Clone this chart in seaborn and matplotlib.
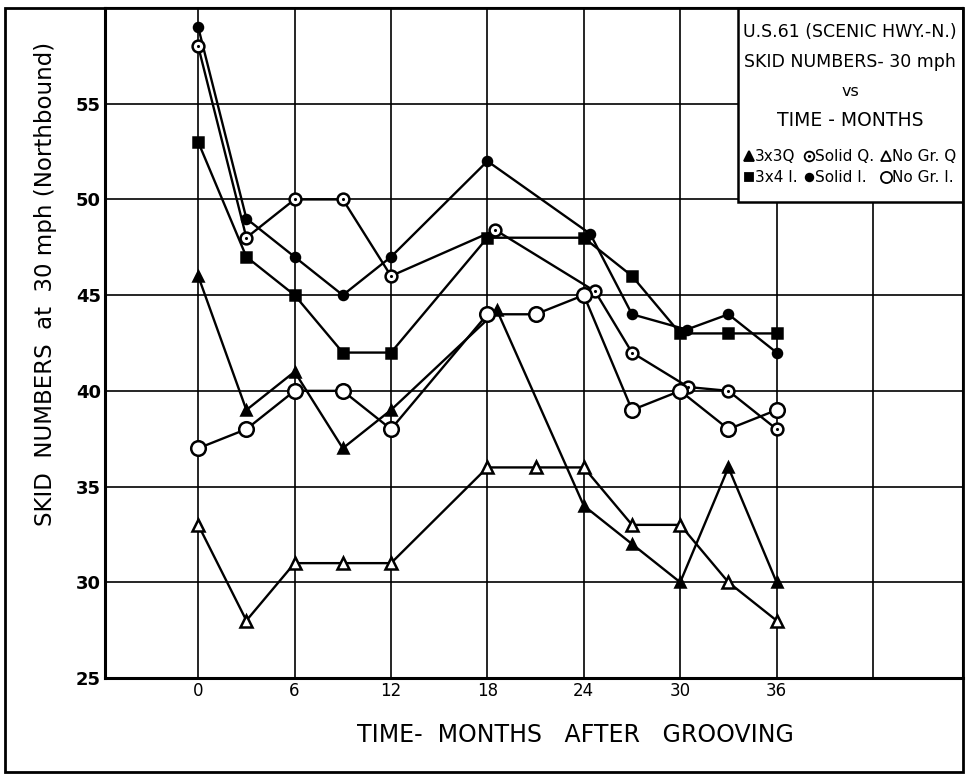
import numpy as np
import pandas as pd
import matplotlib
matplotlib.use("Agg")
import matplotlib.pyplot as plt
import seaborn as sns
from matplotlib.lines import Line2D
from matplotlib.patches import Rectangle
from matplotlib.legend_handler import HandlerTuple

# values (months after grooving, skid number)
x_3x3q = [0, 3, 6, 9, 12, 18.6, 24, 27, 30, 33, 36]
y_3x3q = [46, 39, 41, 37, 39, 44.2, 34, 32, 30, 36, 30]

x_3x4i = [0, 3, 6, 9, 12, 18, 24, 27, 30, 33, 36]
y_3x4i = [53, 47, 45, 42, 42, 48, 48, 46, 43, 43, 43]

x_solid_i = [0, 3, 6, 9, 12, 18, 24.4, 27, 30.4, 33, 36]
y_solid_i = [59, 49, 47, 45, 47, 52, 48.2, 44, 43.2, 44, 42]

x_solid_q = [0, 3, 6, 9, 12, 18.5, 24.7, 27, 30.5, 33, 36]
y_solid_q = [58, 48, 50, 50, 46, 48.4, 45.2, 42, 40.2, 40, 38]

x_nogr_q = [0, 3, 6, 9, 12, 18, 21, 24, 27, 30, 33, 36]
y_nogr_q = [33, 28, 31, 31, 31, 36, 36, 36, 33, 33, 30, 28]

x_nogr_i = [0, 3, 6, 9, 12, 18, 21, 24, 27, 30, 33, 36]
y_nogr_i = [37, 38, 40, 40, 38, 44, 44, 45, 39, 40, 38, 39]

x_ticks = [0, 6, 12, 18, 24, 30, 36]
x_grid = [0, 6, 12, 18, 24, 30, 36, 42]
y_ticks = [25, 30, 35, 40, 45, 50, 55]

title_lines = ["U.S.61 (SCENIC HWY.-N.)", "SKID NUMBERS- 30 mph", "vs", "TIME - MONTHS"]
key_labels = ["3x3Q", "3x4 I.", "Solid Q.", "Solid I.", "No Gr. Q", "No Gr. I."]

sns.set_theme(style="white")
plt.rcParams['font.family'] = ['DejaVu Sans']
plt.rcParams['text.color'] = 'black'
plt.rcParams['xtick.color'] = 'black'
plt.rcParams['ytick.color'] = 'black'

fig = plt.figure(figsize=(9.66, 7.76), dpi=100)
ax = fig.add_axes([105/966, 1 - 678/776, 858/966, 670/776])

LW = 1.7
# (x, y, marker, size, face)
series = [
    (x_3x3q, y_3x3q, "^", 7.5, "black"),
    (x_3x4i, y_3x4i, "s", 6.5, "black"),
    (x_solid_i, y_solid_i, "o", 6.5, "black"),
    (x_solid_q, y_solid_q, "o", 8.5, "white"),
    (x_nogr_q, y_nogr_q, "^", 9, "white"),
    (x_nogr_i, y_nogr_i, "o", 10.5, "white"),
]
for xs, ys, mk, ms, fc in series:
    df = pd.DataFrame({"month": xs, "skid": ys})
    sns.lineplot(data=df, x="month", y="skid", ax=ax, color="black", lw=LW,
                 marker=mk, markersize=ms, markerfacecolor=fc,
                 markeredgecolor="black", markeredgewidth=1.8, zorder=3)

# center dot of the "Solid Q" circle
dots = pd.DataFrame({"month": x_solid_q, "skid": y_solid_q})
sns.scatterplot(data=dots, x="month", y="skid", ax=ax, color="black", s=5,
                linewidth=0, zorder=4)

ax.set_xlim(-5.8, 47.6)
ax.set_ylim(25, 60)
for gx in x_grid:
    ax.axvline(gx, color="black", lw=1.2, zorder=1)
for gy in y_ticks[1:]:
    ax.axhline(gy, color="black", lw=1.2, zorder=1)

ax.set_xticks(x_ticks)
ax.set_xticklabels([str(t) for t in x_ticks], fontsize=12)
ax.set_yticks(y_ticks)
ax.set_yticklabels([str(t) for t in y_ticks], fontsize=13, fontweight="bold")
ax.tick_params(axis="both", length=0, pad=3)
ax.set_xlabel("")
ax.set_ylabel("")

for side in ["left", "bottom"]:
    ax.spines[side].set_linewidth(2.2)
for side in ["top", "right"]:
    ax.spines[side].set_linewidth(1.5)
for s in ax.spines.values():
    s.set_color("black")

fig.text(575/966, 1 - 735/776, "TIME-  MONTHS   AFTER   GROOVING", fontsize=17,
         ha="center", va="center")
fig.text(46/966, 1 - 284/776, "SKID  NUMBERS  at  30 mph (Northbound)", fontsize=16.5,
         rotation=90, ha="center", va="center")

# outer frame
fig.patches.append(Rectangle((5/966, 1 - 772/776), 958/966, 764/776,
                             transform=fig.transFigure, fill=False,
                             edgecolor="black", lw=2))

# title / key box
bx0 = (738 - 105) / 858
by0 = (678 - 202) / 670
ax.add_patch(Rectangle((bx0, by0), 1 - bx0, 1 - by0, transform=ax.transAxes,
                       facecolor="white", edgecolor="black", lw=1.8, zorder=5))
cx = (850 - 105) / 858
for txt, py, fs in zip(title_lines, [32, 62, 91, 121], [12.5, 12.5, 11.5, 13.5]):
    ax.text(cx, (678 - py) / 670, txt, transform=ax.transAxes, ha="center",
            va="center", fontsize=fs, zorder=6)

def mk(marker, fc, ms):
    return Line2D([], [], ls="none", marker=marker, markerfacecolor=fc,
                  markeredgecolor="black", markersize=ms, markeredgewidth=1.3)

handles = [mk("^", "black", 6.5), mk("s", "black", 5.5),
           (mk("o", "white", 7), mk(".", "black", 2)), mk("o", "black", 5.5),
           mk("^", "white", 7), mk("o", "white", 8)]
leg = ax.legend(handles, key_labels, ncol=3, loc="center",
                bbox_to_anchor=(cx, (678 - 167) / 670), frameon=False,
                fontsize=11, handlelength=0.6, handletextpad=0.1,
                columnspacing=0.45, labelspacing=0.4, borderpad=0,
                handler_map={tuple: HandlerTuple(ndivide=1, pad=0)})
leg.set_zorder(7)

fig.savefig("out.png", dpi=100)
